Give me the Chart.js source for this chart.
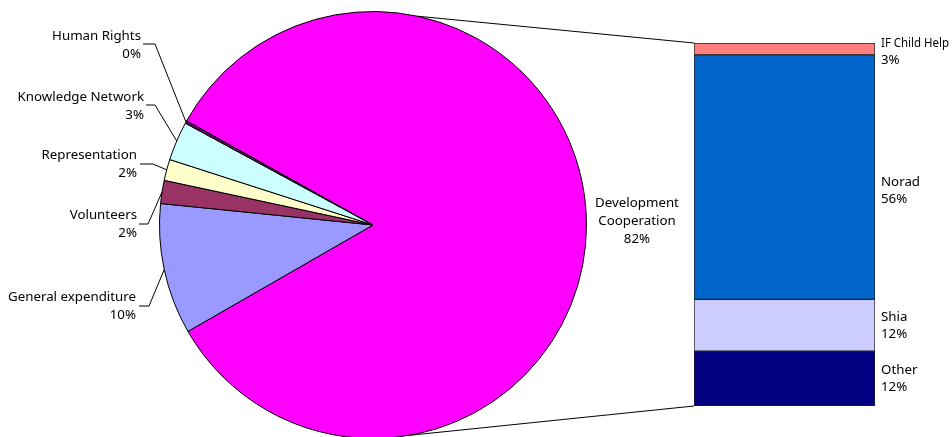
<!DOCTYPE html>
<html><head><meta charset="utf-8">
<script src="https://cdn.jsdelivr.net/npm/chart.js@4.4.0/dist/chart.umd.min.js"></script>
<style>
html,body{margin:0;padding:0;background:#fff;overflow:hidden;width:952px;height:437px;}
#pieBox{position:absolute;left:0;top:0;width:952px;height:440px;}
#barBox{position:absolute;left:0;top:0;width:952px;height:437px;pointer-events:none;}
</style></head><body>
<div id="pieBox"><canvas id="pie"></canvas></div>
<div id="barBox"><canvas id="bar"></canvas></div>
<script>
// ---- data ----
const pieCategories = ['Development Cooperation', 'General expenditure', 'Volunteers', 'Representation', 'Knowledge Network', 'Human Rights'];
const pieValues = [83.5, 9.9, 1.75, 1.6, 2.95, 0.2];
const pieLabels = ['82%', '10%', '2%', '2%', '3%', '0%'];
const pieColors = ['#FF00FF', '#9999FF', '#993366', '#FFFFCC', '#CCFFFF', '#660066'];

const barCategories = ['Other', 'Shia', 'Norad', 'IF Child Help'];
const barValues = [12.4, 11.7, 55.3, 2.7];
const barLabels = ['12%', '12%', '56%', '3%'];
const barColors = ['#000080', '#CCCCFF', '#0066CC', '#FF8080'];

const FONT = '13.3px "Noto Sans", "Open Sans", sans-serif';
const LINE_H = 18;

// layout of the left-hand labels (text right edge, first line centre, elbow)
const leftLayout = {
  1: {right: 136, y: 297, ly: 306, x0: 139, x1: 149},
  2: {right: 137, y: 215, ly: 224, x0: 139, x1: 148},
  3: {right: 137, y: 155, ly: 164, x0: 140, x1: 153},
  4: {right: 144, y: 97, ly: 105, x0: 146, x1: 155},
  5: {right: 141, y: 36, ly: 44, x0: 143, x1: 155}
};
const mainLabelPos = {x: 637, y: 203};

const pieLabelPlugin = {
  id: 'pieLabels',
  afterDraw(chart) {
    const ctx = chart.ctx;
    const arcs = chart.getDatasetMeta(0).data;
    ctx.save();
    ctx.font = FONT;
    ctx.fillStyle = '#000';
    ctx.strokeStyle = '#000';
    ctx.lineWidth = 1;
    ctx.textBaseline = 'middle';
    arcs.forEach((arc, i) => {
      if (i === 0) {
        const words = pieCategories[0].split(' ');
        const lines = words.concat([pieLabels[0]]);
        ctx.textAlign = 'center';
        lines.forEach((t, k) => ctx.fillText(t, mainLabelPos.x, mainLabelPos.y + k * LINE_H));
        return;
      }
      const L = leftLayout[i];
      const mid = (arc.startAngle + arc.endAngle) / 2;
      const ex = arc.x + Math.cos(mid) * arc.outerRadius;
      const ey = arc.y + Math.sin(mid) * arc.outerRadius;
      ctx.beginPath();
      ctx.moveTo(L.x0, L.ly);
      ctx.lineTo(L.x1, L.ly);
      ctx.lineTo(ex, ey);
      ctx.stroke();
      ctx.textAlign = 'right';
      ctx.fillText(pieCategories[i], L.right, L.y);
      ctx.fillText(pieLabels[i], L.right, L.y + LINE_H);
    });
    ctx.restore();
  }
};

const pieChart = new Chart(document.getElementById('pie'), {
  type: 'pie',
  data: {
    labels: pieCategories,
    datasets: [{
      data: pieValues,
      backgroundColor: pieColors,
      borderColor: '#000',
      borderWidth: 1
    }]
  },
  options: {
    responsive: true,
    maintainAspectRatio: false,
    animation: false,
    rotation: 299.2,
    layout: {padding: {left: 159, right: 365, top: 11, bottom: 1}},
    plugins: {legend: {display: false}, tooltip: {enabled: false}}
  },
  plugins: [pieLabelPlugin]
});

const barTotal = barValues.reduce((a, b) => a + b, 0);
const barLabelDy = [0, 0, 13, 2];
const connectorAngles = {top: -77.9, bottom: 80};

const barPlugin = {
  id: 'barExtras',
  afterDraw(chart) {
    const ctx = chart.ctx;
    ctx.save();
    // connector lines from the pie to the bar
    const arc = pieChart.getDatasetMeta(0).data[0];
    const topBar = chart.getDatasetMeta(barValues.length - 1).data[0];
    const botBar = chart.getDatasetMeta(0).data[0];
    const leftX = topBar.x - topBar.width / 2;
    const a1 = connectorAngles.top * Math.PI / 180;
    const a2 = connectorAngles.bottom * Math.PI / 180;
    ctx.strokeStyle = '#000';
    ctx.lineWidth = 1;
    ctx.beginPath();
    ctx.moveTo(arc.x + Math.cos(a1) * arc.outerRadius, arc.y + Math.sin(a1) * arc.outerRadius);
    ctx.lineTo(leftX, topBar.y);
    ctx.moveTo(arc.x + Math.cos(a2) * arc.outerRadius, arc.y + Math.sin(a2) * arc.outerRadius);
    ctx.lineTo(leftX, botBar.base);
    ctx.stroke();
    // labels
    ctx.font = FONT;
    ctx.fillStyle = '#000';
    ctx.textAlign = 'left';
    ctx.textBaseline = 'middle';
    barCategories.forEach((c, i) => {
      const el = chart.getDatasetMeta(i).data[0];
      const cy = (el.y + el.base) / 2 + barLabelDy[i];
      const x = el.x + el.width / 2 + 6;
      const maxW = chart.width - x - 3;
      ctx.fillText(c, x, cy - 8, maxW);
      ctx.fillText(barLabels[i], x, cy + 9, maxW);
    });
    ctx.restore();
  }
};

new Chart(document.getElementById('bar'), {
  type: 'bar',
  data: {
    labels: [''],
    datasets: barCategories.map((c, i) => ({
      label: c,
      data: [barValues[i]],
      backgroundColor: barColors[i],
      borderColor: '#222',
      borderWidth: 1,
      borderSkipped: false,
      categoryPercentage: 1,
      barPercentage: 1
    }))
  },
  options: {
    responsive: true,
    maintainAspectRatio: false,
    animation: false,
    layout: {padding: {left: 694, right: 77, top: 43, bottom: 31}},
    scales: {
      x: {display: false, stacked: true},
      y: {display: false, stacked: true, min: 0, max: barTotal}
    },
    plugins: {legend: {display: false}, tooltip: {enabled: false}}
  },
  plugins: [barPlugin]
});
</script>
</body></html>
